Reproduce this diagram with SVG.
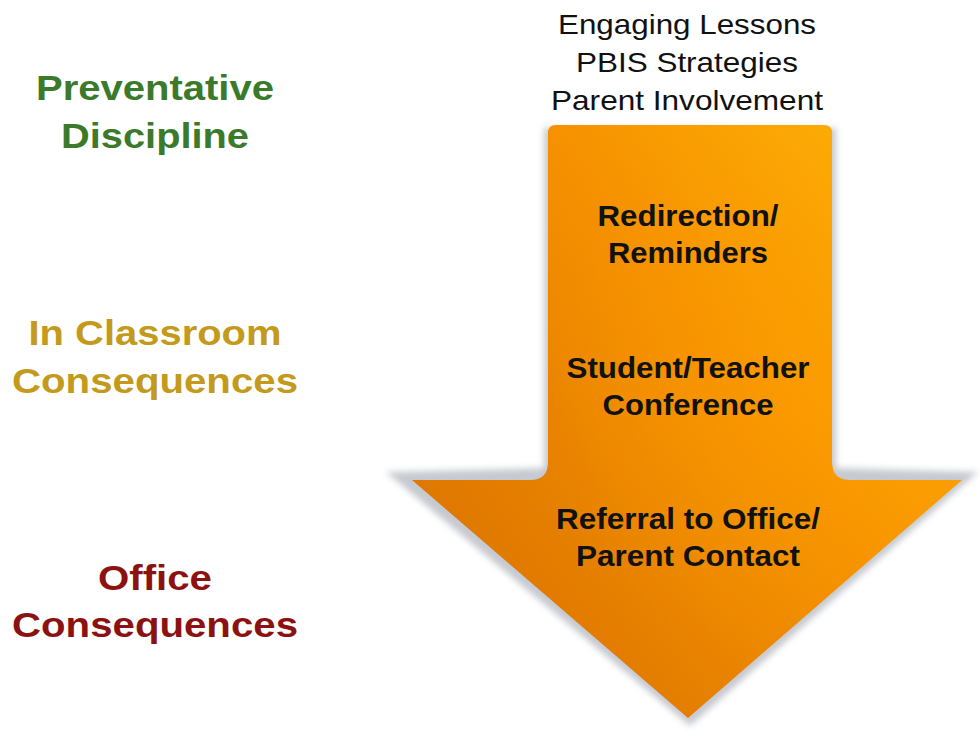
<svg xmlns="http://www.w3.org/2000/svg" width="980" height="739" viewBox="0 0 980 739">
<defs>
<style>
.top{font-family:"Liberation Sans",Arial,sans-serif;font-size:28px;fill:#111}
.in{font-family:"Liberation Sans",Arial,sans-serif;font-size:30px;font-weight:bold;fill:#111}
.lab{font-family:"Liberation Sans",Arial,sans-serif;font-size:35px;font-weight:bold}
</style>
<linearGradient id="og" x1="1" y1="0" x2="0" y2="0.8">
<stop offset="0" stop-color="#FFB808"/>
<stop offset="0.45" stop-color="#F69200"/>
<stop offset="1" stop-color="#DA7200"/>
</linearGradient>
<radialGradient id="hl" cx="0.75" cy="0.45" r="0.5">
<stop offset="0" stop-color="#FFA000" stop-opacity="0.5"/>
<stop offset="1" stop-color="#FFA000" stop-opacity="0"/>
</radialGradient>
<filter id="blur" x="-10%" y="-10%" width="120%" height="120%"><feGaussianBlur stdDeviation="3"/></filter>
</defs>
<rect width="980" height="739" fill="#fff"/>
<g id="arrow">
<path d="M544,128 L836,128 L836,468 L978,472 L690,726 L386,472 L544,468 Z" fill="#b8bcc4" filter="url(#blur)" opacity="0.8"/>
<path d="M556,125 L824,125 Q832,125 832,133 L832,462 Q832,480 850,480 L962,480 L688,718 L412,480 L530,480 Q548,480 548,462 L548,133 Q548,125 556,125 Z" fill="url(#og)"/>
<path d="M556,125 L824,125 Q832,125 832,133 L832,462 Q832,480 850,480 L962,480 L688,718 L412,480 L530,480 Q548,480 548,462 L548,133 Q548,125 556,125 Z" fill="url(#hl)"/>
</g>
<g id="preventive-items" text-anchor="middle">
<text class="top" x="687" y="34" textLength="258" lengthAdjust="spacingAndGlyphs">Engaging Lessons</text>
<text class="top" x="687" y="72" textLength="222" lengthAdjust="spacingAndGlyphs">PBIS Strategies</text>
<text class="top" x="687" y="110" textLength="272" lengthAdjust="spacingAndGlyphs">Parent Involvement</text>
</g>
<g id="step-redirection" text-anchor="middle">
<text class="in" x="688" y="226" textLength="181" lengthAdjust="spacingAndGlyphs">Redirection/</text>
<text class="in" x="688" y="263" textLength="160" lengthAdjust="spacingAndGlyphs">Reminders</text>
</g>
<g id="step-conference" text-anchor="middle">
<text class="in" x="688" y="378" textLength="243" lengthAdjust="spacingAndGlyphs">Student/Teacher</text>
<text class="in" x="688" y="415" textLength="171" lengthAdjust="spacingAndGlyphs">Conference</text>
</g>
<g id="step-referral" text-anchor="middle">
<text class="in" x="688" y="529" textLength="264" lengthAdjust="spacingAndGlyphs">Referral to Office/</text>
<text class="in" x="688" y="566" textLength="224" lengthAdjust="spacingAndGlyphs">Parent Contact</text>
</g>
<g id="label-preventative" text-anchor="middle" fill="#3B7A2A">
<text class="lab" x="155" y="100" textLength="238" lengthAdjust="spacingAndGlyphs">Preventative</text>
<text class="lab" x="155" y="148" textLength="188" lengthAdjust="spacingAndGlyphs">Discipline</text>
</g>
<g id="label-classroom" text-anchor="middle" fill="#C39A1C">
<text class="lab" x="155" y="345" textLength="253" lengthAdjust="spacingAndGlyphs">In Classroom</text>
<text class="lab" x="155" y="393" textLength="286" lengthAdjust="spacingAndGlyphs">Consequences</text>
</g>
<g id="label-office" text-anchor="middle" fill="#8C1212">
<text class="lab" x="155" y="590" textLength="114" lengthAdjust="spacingAndGlyphs">Office</text>
<text class="lab" x="155" y="637" textLength="286" lengthAdjust="spacingAndGlyphs">Consequences</text>
</g>
<g id="connectors"/>
</svg>
